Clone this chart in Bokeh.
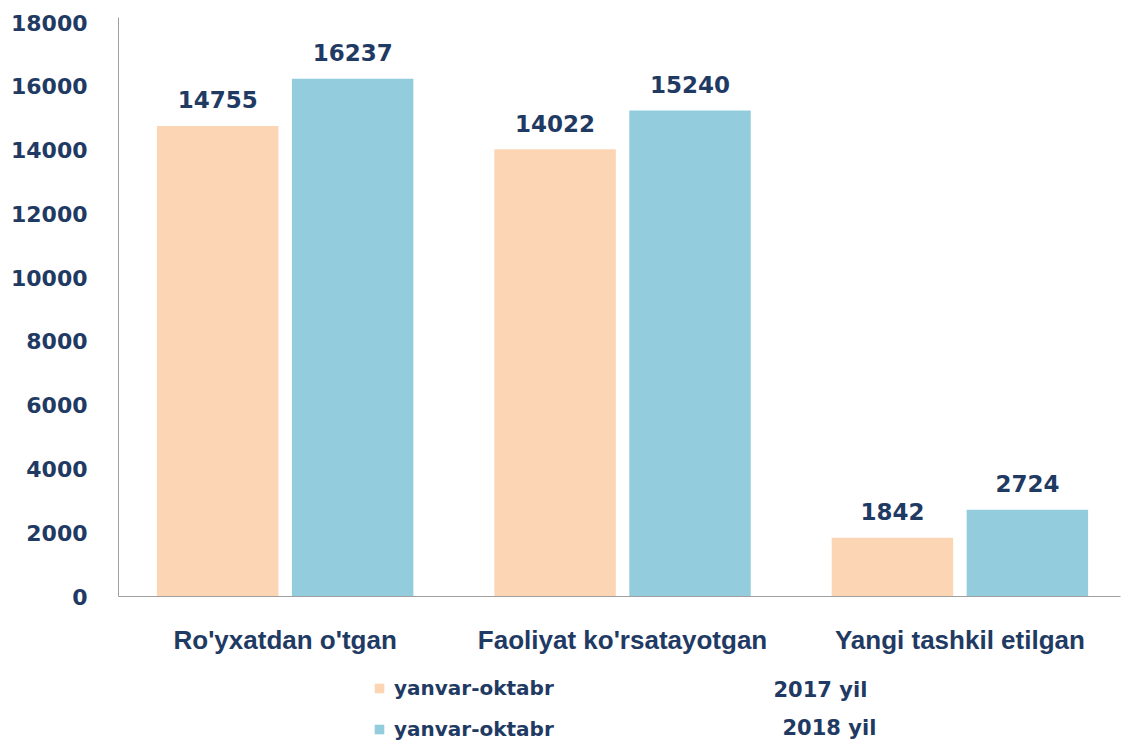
from bokeh.plotting import figure
from bokeh.layouts import column
from bokeh.models import ColumnDataSource, FixedTicker, Range1d, Legend, LegendItem, Label
from bokeh.transform import dodge
from bokeh.core.properties import value
from bokeh.embed import file_html
from bokeh.resources import INLINE

categories = ["Ro'yxatdan o'tgan", "Faoliyat ko'rsatayotgan", "Yangi tashkil etilgan"]
values_2017 = [14755, 14022, 1842]
values_2018 = [16237, 15240, 2724]
series_names = ["yanvar-oktabr", "yanvar-oktabr"]
series_years = ["2017 yil", "2018 yil"]
y_ticks = [0, 2000, 4000, 6000, 8000, 10000, 12000, 14000, 16000, 18000]

NAVY = "#1F3A63"
PEACH = "#FCD5B5"
BLUE = "#93CDDD"

xs = [i + 0.5 for i in range(len(categories))]
src = ColumnDataSource(dict(
    x=xs, v17=values_2017, v18=values_2018,
    t17=[str(v) for v in values_2017], t18=[str(v) for v in values_2018],
))

p = figure(width=1122, height=660, output_backend="svg", toolbar_location=None,
           x_range=Range1d(0.006, 2.976), y_range=Range1d(0, 18157),
           min_border_left=118, min_border_right=2, min_border_top=17, min_border_bottom=64)
p.outline_line_color = None
p.background_fill_color = "white"
p.xgrid.grid_line_color = None
p.ygrid.grid_line_color = None

r17 = p.vbar(x=dodge("x", -0.2), top="v17", width=0.36, source=src,
             fill_color=PEACH, line_color=None)
r18 = p.vbar(x=dodge("x", 0.2), top="v18", width=0.36, source=src,
             fill_color=BLUE, line_color=None)

for tcol, vcol, off in (("t17", "v17", -0.2), ("t18", "v18", 0.2)):
    p.text(x=dodge("x", off), y=vcol, text=tcol, source=src,
           text_align="center", text_baseline="alphabetic", y_offset=-26,
           text_font=value("DejaVu Sans"), text_font_style="bold",
           text_font_size="23px", text_color=NAVY)

# axes
p.yaxis.ticker = FixedTicker(ticks=y_ticks)
p.yaxis.minor_tick_line_color = None
p.yaxis.major_tick_line_color = None
p.yaxis.axis_line_color = "#A0A0A0"
p.yaxis.major_label_standoff = 25
p.yaxis.major_label_text_font = "DejaVu Sans"
p.yaxis.major_label_text_font_style = "bold"
p.yaxis.major_label_text_font_size = "22px"
p.yaxis.major_label_text_color = NAVY

p.xaxis.ticker = FixedTicker(ticks=xs)
p.xaxis.major_label_overrides = {x: c for x, c in zip(xs, categories)}
p.xaxis.minor_tick_line_color = None
p.xaxis.major_tick_line_color = None
p.xaxis.axis_line_color = "#A0A0A0"
p.xaxis.major_label_standoff = 22
p.xaxis.major_label_text_font = "Liberation Sans"
p.xaxis.major_label_text_font_style = "bold"
p.xaxis.major_label_text_font_size = "26px"
p.xaxis.major_label_text_color = NAVY

# legend strip
q = figure(width=1122, height=82, output_backend="svg", toolbar_location=None,
           x_range=Range1d(0, 1), y_range=Range1d(0, 1),
           x_axis_type=None, y_axis_type=None,
           min_border_left=0, min_border_right=0, min_border_top=0, min_border_bottom=0)
q.outline_line_color = None
q.xgrid.grid_line_color = None
q.ygrid.grid_line_color = None
# swatch-only renderers with zero height (nothing drawn in the strip)
dummy = ColumnDataSource(dict(x=[0.5], top=[0.0]))
d17 = q.vbar(x="x", top="top", bottom=0, width=0, source=dummy, fill_color=PEACH, line_color=None)
d18 = q.vbar(x="x", top="top", bottom=0, width=0, source=dummy, fill_color=BLUE, line_color=None)

legend = Legend(items=[LegendItem(label=series_names[0], renderers=[d17]),
                       LegendItem(label=series_names[1], renderers=[d18])],
                location=(255, 1), orientation="vertical",
                glyph_width=12, glyph_height=12, label_standoff=9,
                spacing=17, padding=0, margin=0,
                border_line_color=None, background_fill_alpha=0,
                label_text_font="DejaVu Sans", label_text_font_style="bold",
                label_text_font_size="20px", label_text_color=NAVY)
q.add_layout(legend)

for txt, xx, yy in ((series_years[0], 655, 53), (series_years[1], 664, 15)):
    q.add_layout(Label(x=xx, y=yy, x_units="screen", y_units="screen", text=txt,
                       text_font="DejaVu Sans", text_font_style="bold",
                       text_font_size="21px", text_color=NAVY,
                       text_baseline="alphabetic", text_align="left"))

layout = column(p, q, spacing=0)
open("out.html", "w").write(file_html(layout, INLINE))
